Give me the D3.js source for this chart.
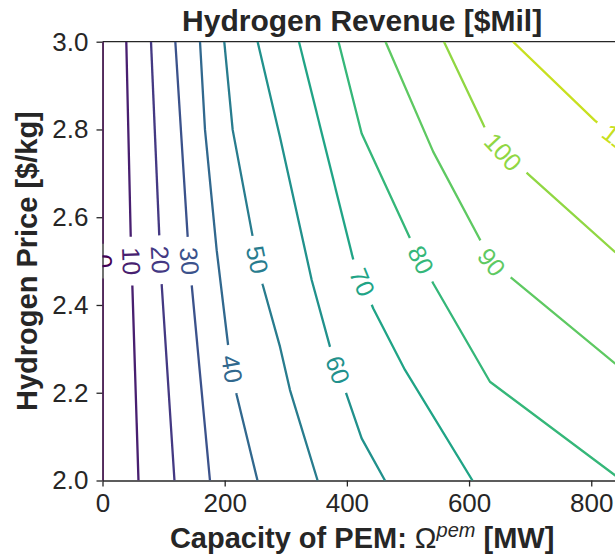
<!DOCTYPE html>
<html><head><meta charset="utf-8">
<script src="https://cdn.jsdelivr.net/npm/d3@7/dist/d3.min.js"></script>
<style>
body{margin:0;background:#fff}
text{font-family:"Liberation Sans",Arial,Helvetica,sans-serif}
</style>
</head><body>
<svg id="chart" width="615" height="557"></svg>
<script>
// ---------------- data ----------------
const levels = [0, 10, 20, 30, 40, 50, 60, 70, 80, 90, 100, 110];
const colorMax = 120;
const xTicks = [0, 200, 400, 600, 800];
const yTicks = [2.0, 2.2, 2.4, 2.6, 2.8, 3.0];

// contour polylines: [capacity MW, price $/kg]
const line0   = [[0, 2.0], [0, 3.0]];
const line10  = [[38.95, 3.0], [46.2, 2.556], [48.8, 2.446], [58.9, 2.0]];
const line20  = [[79.4, 3.0], [93.0, 2.556], [96.9, 2.446], [117.8, 2.0]];
const line30  = [[119.2, 3.0], [139.4, 2.556], [146.0, 2.446], [175.9, 2.0]];
const line40  = [[159.6, 3.0], [167.8, 2.799], [186.9, 2.525], [205.9, 2.305], [219.6, 2.195], [253.7, 2.0]];
const line50  = [[199.3, 3.0], [213.1, 2.799], [245.8, 2.556], [262.2, 2.446], [290.5, 2.305], [306.9, 2.206], [352.1, 2.0]];
const line60  = [[253.9, 3.0], [290.5, 2.783], [342.4, 2.457], [372.3, 2.305], [399.7, 2.195], [424.2, 2.096], [462.4, 2.0]];
const line70  = [[321.6, 3.0], [410.5, 2.503], [443.2, 2.392], [495.1, 2.252], [605.6, 2.0]];
const line80  = [[386.3, 3.0], [424.2, 2.791], [503.3, 2.552], [541.4, 2.449], [634.2, 2.225], [850.3, 2.0]];
const line90  = [[463.2, 3.0], [541.4, 2.749], [616.7, 2.552], [637.2, 2.498], [669.7, 2.461], [838.8, 2.267], [855, 2.252]];
const line100 = [[558.9, 3.0], [622.3, 2.814], [635.7, 2.774], [698.5, 2.696], [838.8, 2.521], [855, 2.505]];
const line110 = [[671.9, 3.0], [806.1, 2.820], [880, 2.740]];
const contourLines = [line0, line10, line20, line30, line40, line50, line60, line70, line80, line90, line100, line110];

// contour label anchor points [capacity, price]
const labelPoints = [[0, 2.5], [47.5, 2.5], [94.9, 2.503], [142.8, 2.5], [212.3, 2.254], [253.7, 2.503],
                     [385.5, 2.252], [425.5, 2.452], [521.4, 2.503], [637.2, 2.498], [655.8, 2.749], [846.3, 2.768]];

// ---------------- layout ----------------
const svg = d3.select("#chart");
const mLeft = 102.5, mRight = 621.8, mTop = 41.7, mBottom = 480.5;
const x = d3.scaleLinear().domain([0, 850]).range([mLeft, mRight]);
const y = d3.scaleLinear().domain([2.0, 3.0]).range([mBottom, mTop]);
const color = d => d3.interpolateViridis(d / colorMax);
const ink = "#262626";

svg.append("defs").append("clipPath").attr("id", "plotclip")
  .append("rect").attr("x", mLeft).attr("y", mTop).attr("width", mRight - mLeft).attr("height", mBottom - mTop);

// axes
const yAxis = svg.append("g").attr("transform", `translate(${mLeft},0)`)
  .call(d3.axisLeft(y).tickValues(yTicks).tickFormat(d3.format(".1f")).tickSize(6).tickSizeOuter(0).tickPadding(8));
const xAxis = svg.append("g").attr("transform", `translate(0,${mBottom})`)
  .call(d3.axisBottom(x).tickValues(xTicks).tickFormat(d3.format("d")).tickSize(6).tickSizeOuter(0).tickPadding(7));
[yAxis, xAxis].forEach(g => {
  g.selectAll("path.domain").attr("stroke", ink).attr("stroke-width", 1.3);
  g.selectAll(".tick line").attr("stroke", ink).attr("stroke-width", 1.3);
  g.selectAll(".tick text").attr("fill", ink).style("font-size", "26px")
    .style("font-family", '"Liberation Sans",Arial,sans-serif');
});
svg.append("line").attr("x1", mLeft).attr("x2", mRight).attr("y1", mTop).attr("y2", mTop)
  .attr("stroke", ink).attr("stroke-width", 1.3);
svg.append("line").attr("x1", mRight).attr("x2", mRight).attr("y1", mTop).attr("y2", mBottom)
  .attr("stroke", ink).attr("stroke-width", 1.3);

// ---------------- contour lines with inline labels ----------------
const plot = svg.append("g").attr("clip-path", "url(#plotclip)");
const lineGen = d3.line();

function cumLen(p) { const c = [0]; for (let i = 1; i < p.length; i++) c.push(c[i-1] + Math.hypot(p[i][0]-p[i-1][0], p[i][1]-p[i-1][1])); return c; }
function pointAt(p, c, s) {
  s = Math.max(0, Math.min(c[c.length-1], s));
  for (let i = 1; i < p.length; i++) if (c[i] >= s) {
    const t = (s - c[i-1]) / ((c[i] - c[i-1]) || 1);
    return [p[i-1][0] + t*(p[i][0]-p[i-1][0]), p[i-1][1] + t*(p[i][1]-p[i-1][1])];
  }
  return p[p.length-1];
}
function subPath(p, c, a, b) {
  const out = [pointAt(p, c, a)];
  for (let i = 0; i < p.length; i++) if (c[i] > a && c[i] < b) out.push(p[i]);
  out.push(pointAt(p, c, b));
  return out;
}
function project(p, c, q) {
  let best = Infinity, bs = 0;
  for (let i = 1; i < p.length; i++) {
    const ax = p[i-1][0], ay = p[i-1][1], dx = p[i][0]-ax, dy = p[i][1]-ay;
    const L2 = dx*dx + dy*dy || 1;
    let t = ((q[0]-ax)*dx + (q[1]-ay)*dy) / L2; t = Math.max(0, Math.min(1, t));
    const px = ax + t*dx, py = ay + t*dy, d = Math.hypot(q[0]-px, q[1]-py);
    if (d < best) { best = d; bs = c[i-1] + t*Math.sqrt(L2); }
  }
  return bs;
}

levels.forEach((lv, i) => {
  const pts = contourLines[i].map(d => [x(d[0]), y(d[1])]);
  const c = cumLen(pts), total = c[c.length-1];
  const lp = [x(labelPoints[i][0]), y(labelPoints[i][1])];
  const s0 = project(pts, c, lp);
  const lab = plot.append("text").text(String(lv))
    .attr("fill", color(lv)).style("font-size", "25px")
    .attr("text-anchor", "middle").attr("dominant-baseline", "central");
  const L = lab.node().getComputedTextLength();
  const half = L / 2 + 10.5;
  const a = s0 - half, b = s0 + half;
  const pa = pointAt(pts, c, a), pb = pointAt(pts, c, b);
  let ang = Math.atan2(pb[1]-pa[1], pb[0]-pa[0]) * 180 / Math.PI;
  if (ang > 90) ang -= 180;
  if (ang <= -90) ang += 180;
  const ctr = pointAt(pts, c, s0);
  lab.attr("transform", `translate(${ctr[0]},${ctr[1]}) rotate(${ang})`);
  const pieces = [];
  if (a > 0) pieces.push(subPath(pts, c, 0, a));
  if (b < total) pieces.push(subPath(pts, c, b, total));
  pieces.forEach(pc => plot.insert("path", "text").attr("d", lineGen(pc))
    .attr("fill", "none").attr("stroke", color(lv)).attr("stroke-width", 2.3)
    .attr("stroke-linejoin", "round"));
});

// ---------------- titles ----------------
const cx = (mLeft + mRight) / 2;
svg.append("text").attr("x", cx).attr("y", 31).attr("text-anchor", "middle")
  .attr("fill", ink).style("font-size", "30px").style("font-weight", "bold")
  .text("Hydrogen Revenue [$Mil]");
const xl = svg.append("text").attr("x", cx).attr("y", 548).attr("text-anchor", "middle")
  .attr("fill", ink).style("font-size", "29px").style("font-weight", "bold");
xl.append("tspan").text("Capacity of PEM: ");
xl.append("tspan").style("font-weight", "normal").text("Ω");
xl.append("tspan").style("font-weight", "normal").style("font-style", "italic")
  .style("font-size", "20px").attr("dy", -11).text("pem");
xl.append("tspan").attr("dy", 11).text(" [MW]");
svg.append("text").attr("transform", `translate(37,${(mTop + mBottom) / 2}) rotate(-90)`)
  .attr("text-anchor", "middle").attr("fill", ink)
  .style("font-size", "29px").style("font-weight", "bold")
  .text("Hydrogen Price [$/kg]");
</script>
</body></html>
